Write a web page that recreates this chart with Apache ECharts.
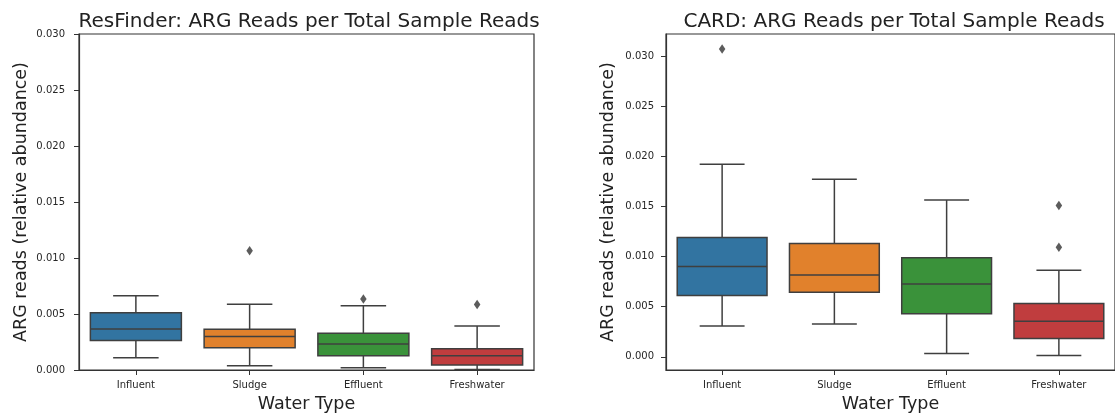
<!DOCTYPE html>
<html>
<head>
<meta charset="utf-8">
<script src="https://cdn.jsdelivr.net/npm/echarts@6/dist/echarts.min.js"></script>
<style>
html,body{margin:0;padding:0;background:#fff;}
#chart{width:1115px;height:418px;}
</style>
</head>
<body>
<div id="chart"></div>
<script>
// ---- data ----
const categories = ['Influent', 'Sludge', 'Effluent', 'Freshwater'];
const palette = ['#3274a1', '#e1812c', '#3a923a', '#c03d3e'];

// [whisker low, Q1, median, Q3, whisker high]
const resInfluent   = [0.00109, 0.00263, 0.00366, 0.00511, 0.00662];
const resSludge     = [0.00038, 0.00198, 0.00298, 0.00364, 0.00588];
const resEffluent   = [0.00020, 0.00127, 0.00233, 0.00328, 0.00573];
const resFreshwater = [0.00005, 0.00044, 0.00127, 0.00189, 0.00393];
const resOutliers   = [['Sludge', 0.01064], ['Effluent', 0.00635], ['Freshwater', 0.00585]];

const cardInfluent   = [0.00308, 0.00612, 0.00900, 0.01190, 0.01922];
const cardSludge     = [0.00327, 0.00645, 0.00817, 0.01131, 0.01773];
const cardEffluent   = [0.00033, 0.00430, 0.00727, 0.00989, 0.01564];
const cardFreshwater = [0.00013, 0.00182, 0.00354, 0.00533, 0.00863];
const cardOutliers   = [['Influent', 0.03072], ['Freshwater', 0.01511], ['Freshwater', 0.01094]];

const yTicks = [0, 0.005, 0.010, 0.015, 0.020, 0.025, 0.030];
const cardYMin = -0.00132, cardYMax = 0.03222;

// ---- chart ----
const FONT = 'DejaVu Sans';
const LINE = '#3f3f3f';
const AXIS = '#333333';

function boxData(arrs) {
  return arrs.map((a, i) => [i].concat(a));
}

function renderBox(params, api) {
  const i = api.value(0);
  const band = api.size([1, 0])[0];
  const bw = band * 0.8, cw = bw * 0.5;
  const pMin = api.coord([i, api.value(1)]);
  const pQ1 = api.coord([i, api.value(2)]);
  const pMed = api.coord([i, api.value(3)]);
  const pQ3 = api.coord([i, api.value(4)]);
  const pMax = api.coord([i, api.value(5)]);
  const cx = pMed[0];
  const ls = { stroke: LINE, lineWidth: 1.5, fill: null };
  return {
    type: 'group',
    children: [
      { type: 'line', shape: { x1: cx, y1: pQ3[1], x2: cx, y2: pMax[1] }, style: ls },
      { type: 'line', shape: { x1: cx, y1: pQ1[1], x2: cx, y2: pMin[1] }, style: ls },
      { type: 'line', shape: { x1: cx - cw / 2, y1: pMax[1], x2: cx + cw / 2, y2: pMax[1] }, style: ls },
      { type: 'line', shape: { x1: cx - cw / 2, y1: pMin[1], x2: cx + cw / 2, y2: pMin[1] }, style: ls },
      { type: 'rect', shape: { x: cx - bw / 2, y: pQ3[1], width: bw, height: pQ1[1] - pQ3[1] },
        style: { fill: palette[i], stroke: LINE, lineWidth: 1.5 } },
      { type: 'line', shape: { x1: cx - bw / 2, y1: pMed[1], x2: cx + bw / 2, y2: pMed[1] }, style: ls }
    ]
  };
}

function xAxisCfg(gridIndex) {
  return {
    type: 'category', gridIndex: gridIndex, data: categories, boundaryGap: true,
    name: 'Water Type', nameLocation: 'middle', nameGap: 25,
    nameTextStyle: { fontFamily: FONT, fontSize: 17.5, color: '#222' },
    axisLine: { show: true, onZero: false, lineStyle: { color: AXIS, width: 1.2 } },
    axisTick: { show: true, alignWithLabel: true, length: 5, lineStyle: { color: AXIS, width: 1 } },
    axisLabel: { fontFamily: FONT, fontSize: 10, color: '#262626', margin: 10 },
    splitLine: { show: false }
  };
}

function yAxisCfg(gridIndex, min, max, margin) {
  return {
    type: 'value', gridIndex: gridIndex, min: min, max: max,
    name: 'ARG reads (relative abundance)', nameLocation: 'middle', nameGap: 49, nameRotate: 90,
    nameTextStyle: { fontFamily: FONT, fontSize: 17.5, color: '#222' },
    axisLine: { show: true, onZero: false, lineStyle: { color: AXIS, width: 1.2 } },
    axisTick: { show: true, length: 5, customValues: yTicks, lineStyle: { color: AXIS, width: 1 } },
    axisLabel: { fontFamily: FONT, fontSize: 10, color: '#262626', margin: margin,
      customValues: yTicks, formatter: v => Number(v).toFixed(3) },
    splitLine: { show: false }
  };
}

const chart = echarts.init(document.getElementById('chart'), null, { renderer: 'canvas' });
chart.setOption({
  animation: false,
  backgroundColor: '#ffffff',
  title: [
    { text: 'ResFinder: ARG Reads per Total Sample Reads', left: 304, top: 7, textAlign: 'center',
      textStyle: { fontFamily: FONT, fontSize: 20, fontWeight: 'normal', color: '#222' } },
    { text: 'CARD: ARG Reads per Total Sample Reads', left: 889, top: 7, textAlign: 'center',
      textStyle: { fontFamily: FONT, fontSize: 20, fontWeight: 'normal', color: '#222' } }
  ],
  grid: [
    { left: 79, top: 34, width: 455, height: 339, show: true, borderColor: AXIS, borderWidth: 1.2, backgroundColor: 'transparent' },
    { left: 666, top: 34, width: 455, height: 338, show: true, borderColor: AXIS, borderWidth: 1.2, backgroundColor: 'transparent' }
  ],
  xAxis: [xAxisCfg(0), xAxisCfg(1)],
  yAxis: [yAxisCfg(0, 0, 0.03, 14), yAxisCfg(1, cardYMin, cardYMax, 12)],
  series: [
    { type: 'custom', xAxisIndex: 0, yAxisIndex: 0, renderItem: renderBox,
      encode: { x: 0, y: [1, 2, 3, 4, 5] },
      data: boxData([resInfluent, resSludge, resEffluent, resFreshwater]) },
    { type: 'scatter', xAxisIndex: 0, yAxisIndex: 0, symbol: 'diamond', symbolSize: [6.5, 9.5],
      itemStyle: { color: '#333' }, data: resOutliers },
    { type: 'custom', xAxisIndex: 1, yAxisIndex: 1, renderItem: renderBox,
      encode: { x: 0, y: [1, 2, 3, 4, 5] },
      data: boxData([cardInfluent, cardSludge, cardEffluent, cardFreshwater]) },
    { type: 'scatter', xAxisIndex: 1, yAxisIndex: 1, symbol: 'diamond', symbolSize: [6.5, 9.5],
      itemStyle: { color: '#333' }, data: cardOutliers }
  ]
});
</script>
</body>
</html>
